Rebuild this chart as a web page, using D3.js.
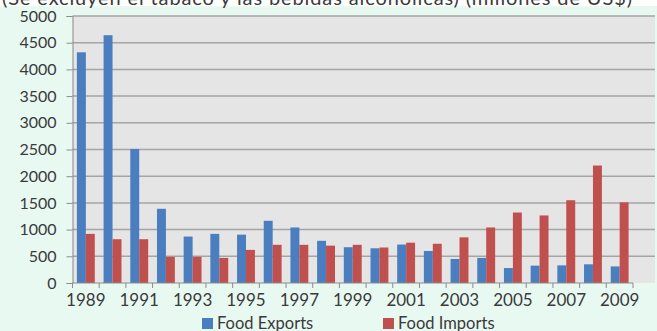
<!DOCTYPE html>
<html lang="es">
<head>
<meta charset="utf-8" />
<title>Food Exports vs Food Imports</title>
<style>
    body { margin: 0; background: #ffffff; }
    svg text { font-family: Lato, "Open Sans", sans-serif; fill: #3a3a3a; }
</style>
<script src="https://cdn.jsdelivr.net/npm/d3@7"></script>
</head>
<body>
<script>
    // data (millions of US$)
    var years = d3.range(1989, 2010).map(String);
    var exportsVals = [4320, 4640, 2510, 1390, 870, 920, 905, 1165, 1040, 790,
                       670, 650, 720, 600, 450, 470, 280, 325, 330, 350, 310];
    var importsVals = [920, 820, 820, 490, 490, 470, 620, 715, 715, 700,
                       715, 665, 755, 735, 855, 1040, 1320, 1265, 1550, 2200, 1510];
    var seriesNames = ['Food Exports', 'Food Imports'];
    var yTicks = [0, 500, 1000, 1500, 2000, 2500, 3000, 3500, 4000, 4500, 5000];
    var xLabels = years.filter(function(d, i) { return i % 2 === 0; });

    var width = 657, height = 331;
    var colors = ['#4a7ebf', '#c0504d'];

    // plot box ("top" is taken by window.top, so prefix everything)
    var plotLeft = 72.5, plotRight = 633, plotTop = 16, plotBottom = 283, plotEdge = 655;

    var svg = d3.select('body').append('svg')
        .attr('width', width)
        .attr('height', height);

    // backgrounds: white strip for the cut title, mint chart area, grey plot area
    svg.append('rect').attr('width', width).attr('height', height).attr('fill', '#ffffff');
    svg.append('rect').attr('x', 0).attr('y', 6).attr('width', width).attr('height', height - 6)
        .attr('fill', '#e8f9f2');

    var x0 = d3.scaleBand().domain(years).range([plotLeft, plotRight])
        .paddingInner(0.33).paddingOuter(0.165);
    var x1 = d3.scaleBand().domain([0, 1]).range([0, x0.bandwidth()]);
    var y = d3.scaleLinear().domain([0, 5000]).range([plotBottom, plotTop]);

    svg.append('rect')
        .attr('x', plotLeft).attr('y', plotTop)
        .attr('width', plotEdge - plotLeft).attr('height', plotBottom - plotTop)
        .attr('fill', '#e5e5e5');

    // gridlines
    svg.append('g').selectAll('line')
        .data(yTicks.filter(function(d) { return d > 0; }))
        .enter().append('line')
        .attr('x1', plotLeft).attr('x2', plotEdge)
        .attr('y1', function(d) { return y(d); })
        .attr('y2', function(d) { return y(d); })
        .attr('stroke', '#a5a5a5')
        .attr('stroke-width', 1.5);

    // bars
    var groups = svg.append('g').selectAll('g')
        .data(years)
        .enter().append('g')
        .attr('transform', function(d) { return 'translate(' + x0(d) + ',0)'; });

    groups.selectAll('rect')
        .data(function(d, i) { return [exportsVals[i], importsVals[i]]; })
        .enter().append('rect')
        .attr('x', function(d, j) { return x1(j); })
        .attr('y', function(d) { return y(d); })
        .attr('width', x1.bandwidth())
        .attr('height', function(d) { return y(0) - y(d); })
        .attr('fill', function(d, j) { return colors[j]; });

    // y axis
    var yAxis = svg.append('g')
        .attr('transform', 'translate(' + plotLeft + ',0)')
        .call(d3.axisLeft(y).tickValues(yTicks).tickFormat(d3.format('d'))
            .tickSize(6).tickPadding(10));
    yAxis.select('.domain').attr('stroke', '#8c8c8c');
    yAxis.selectAll('.tick line').attr('stroke', '#8c8c8c');
    yAxis.selectAll('text').attr('font-size', 16).attr('fill', '#3a3a3a')
        .attr('font-family', 'Lato, sans-serif');

    // x axis: ticks at category boundaries, labels every other year
    var xBounds = years.map(function(d) { return x0(d) - x0.step() * x0.paddingInner() / 2; });
    xBounds.push(plotRight);
    svg.append('line')
        .attr('x1', plotLeft).attr('x2', plotRight)
        .attr('y1', plotBottom).attr('y2', plotBottom)
        .attr('stroke', '#8c8c8c');
    svg.append('g').selectAll('line')
        .data(xBounds)
        .enter().append('line')
        .attr('x1', function(d) { return d; }).attr('x2', function(d) { return d; })
        .attr('y1', plotBottom).attr('y2', plotBottom + 5)
        .attr('stroke', '#8c8c8c');
    svg.append('g').selectAll('text')
        .data(xLabels)
        .enter().append('text')
        .attr('x', function(d) { return x0(d) + x0.bandwidth() / 2; })
        .attr('y', 306)
        .attr('text-anchor', 'middle')
        .attr('font-size', 17)
        .text(function(d) { return d; });

    // legend
    var legendX = [202, 383];
    var legend = svg.append('g').selectAll('g')
        .data(seriesNames)
        .enter().append('g')
        .attr('transform', function(d, i) { return 'translate(' + legendX[i] + ',318)'; });
    legend.append('rect')
        .attr('width', 11).attr('height', 11)
        .attr('fill', function(d, i) { return colors[i]; });
    legend.append('text')
        .attr('x', 15).attr('y', 11)
        .attr('font-size', 16.5)
        .text(function(d) { return d; });

    // title, cut off at the top of the picture
    svg.append('text')
        .attr('x', 2).attr('y', 5)
        .attr('font-family', 'Arial, "Liberation Sans", sans-serif')
        .attr('font-size', 20)
        .attr('textLength', 630)
        .attr('fill', '#111')
        .text('(Se excluyen el tabaco y las bebidas alcohólicas) (millones de US$)');
</script>
</body>
</html>
